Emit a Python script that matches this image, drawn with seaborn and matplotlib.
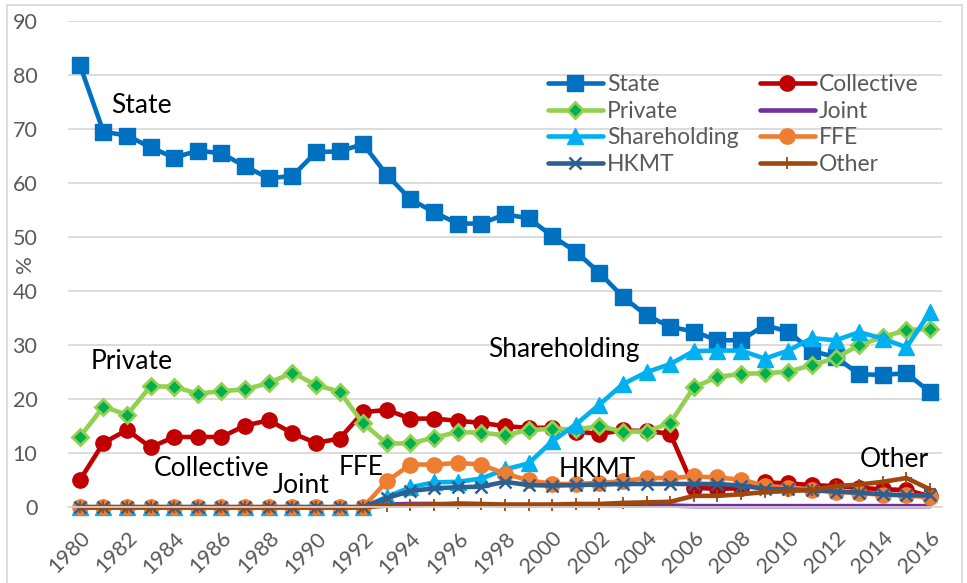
import matplotlib
matplotlib.use("Agg")
import matplotlib.pyplot as plt
import seaborn as sns
import numpy as np
import pandas as pd

years = list(range(1980, 2017))

state = [81.9, 69.5, 68.8, 66.6, 64.7, 66.0, 65.5, 63.1, 60.9, 61.3, 65.7, 65.9, 67.2,
         61.5, 57.0, 54.6, 52.5, 52.5, 54.2, 53.5, 50.2, 47.3, 43.4, 38.9, 35.5, 33.4,
         32.5, 30.9, 30.9, 33.7, 32.5, 28.9, 27.8, 24.6, 24.5, 24.8, 21.3]
collective = [5.0, 11.9, 14.3, 11.1, 13.0, 13.0, 13.0, 15.1, 16.1, 13.7, 11.9, 12.7, 17.6,
              18.0, 16.4, 16.4, 16.0, 15.6, 15.0, 14.7, 14.7, 14.0, 13.6, 14.2, 14.1, 13.6,
              3.6, 3.4, 3.5, 4.6, 4.4, 4.1, 3.9, 3.6, 3.3, 3.2, 2.0]
private = [13.0, 18.6, 17.1, 22.4, 22.3, 21.0, 21.5, 21.8, 23.0, 24.9, 22.6, 21.4, 15.5,
           11.8, 11.8, 12.9, 13.9, 13.8, 13.3, 14.3, 14.5, 14.4, 15.0, 14.0, 14.0, 15.6,
           22.2, 24.1, 24.7, 24.8, 25.1, 26.3, 27.6, 30.0, 31.5, 32.8, 33.0]
joint = [0.0] * 13 + [0.5, 0.6, 0.6, 0.5, 0.5, 0.3, 0.3, 0.3, 0.3, 0.3, 0.3, 0.3, 0.3,
                      0.2, 0.2, 0.2, 0.2, 0.2, 0.2, 0.2, 0.2, 0.2, 0.2, 0.2]
shareholding = [0.0] * 13 + [1.9, 3.7, 4.6, 4.7, 5.3, 7.0, 8.1, 12.2, 15.3, 19.0, 22.8,
                             25.0, 26.5, 28.9, 29.0, 29.0, 27.5, 29.0, 31.3, 30.9, 32.4,
                             31.2, 29.6, 36.1]
ffe = [0.0] * 13 + [4.8, 7.9, 7.9, 8.2, 7.9, 6.2, 5.0, 4.3, 4.3, 4.5, 4.8, 5.4, 5.4,
                    5.7, 5.5, 5.1, 4.0, 3.6, 3.2, 2.9, 2.6, 2.3, 2.2, 1.8]
hkmt = [0.0] * 13 + [1.7, 3.0, 3.5, 3.7, 3.8, 4.7, 4.1, 4.0, 4.1, 4.2, 4.3, 4.3, 4.3,
                     4.3, 4.3, 4.0, 3.4, 3.3, 3.1, 2.9, 2.7, 2.4, 2.2, 2.2]
other = [0.0] * 13 + [0.3, 0.4, 0.5, 0.7, 0.6, 0.5, 0.5, 0.5, 0.6, 0.6, 0.8, 0.9, 1.0,
                      2.1, 2.1, 2.4, 2.8, 3.0, 3.2, 3.9, 4.2, 4.7, 5.4, 3.3]

series_names = ["State", "Collective", "Private", "Joint", "Shareholding", "FFE", "HKMT", "Other"]
series_values = [state, collective, private, joint, shareholding, ffe, hkmt, other]

styles = {
    "State": dict(color="#0070C0", marker="s", markersize=11, markerfacecolor="#0070C0",
                  markeredgecolor="#0070C0", markeredgewidth=1),
    "Collective": dict(color="#C00000", marker="o", markersize=11, markerfacecolor="#C00000",
                       markeredgecolor="#C00000", markeredgewidth=1),
    "Private": dict(color="#92D050", marker="D", markersize=8.5, markerfacecolor="#00B050",
                    markeredgecolor="#92D050", markeredgewidth=2),
    "Joint": dict(color="#7030A0", marker=None),
    "Shareholding": dict(color="#00B0F0", marker="^", markersize=11, markerfacecolor="#00B0F0",
                         markeredgecolor="#00B0F0", markeredgewidth=1),
    "FFE": dict(color="#ED7D31", marker="o", markersize=11, markerfacecolor="#ED7D31",
                markeredgecolor="#ED7D31", markeredgewidth=1),
    "HKMT": dict(color="#2E5F91", marker="x", markersize=9, markeredgecolor="#2E5F91",
                 markeredgewidth=1.8),
    "Other": dict(color="#9E480E", marker="+", markersize=9, markeredgecolor="#9E480E",
                  markeredgewidth=1.3),
}

sns.set_theme(style="white")
plt.rcParams["font.family"] = ["Lato", "DejaVu Sans"]
plt.rcParams["ytick.major.pad"] = 22
plt.rcParams["xtick.major.pad"] = 15
plt.rcParams["ytick.major.size"] = 0
plt.rcParams["xtick.major.size"] = 0

fig = plt.figure(figsize=(9.67, 5.83), dpi=100)
ax = fig.add_axes([0.0703, 0.130, 0.9037, 0.834])

for name, vals in zip(series_names, series_values):
    df = pd.DataFrame({"year": years, "value": vals})
    st = dict(styles[name])
    sns.lineplot(data=df, x="year", y="value", ax=ax, label=name, linewidth=3.3,
                 clip_on=False, **st)

ax.set_xlim(1979.5, 2016.5)
ax.set_ylim(0, 90)
ax.set_yticks(range(0, 91, 10))
ax.set_xticks(years[::2])
ax.set_xticklabels([str(y) for y in years[::2]], rotation=45, ha="right",
                   rotation_mode="anchor")
ax.tick_params(axis="both", colors="#595959", labelsize=15.5, length=0)
ax.tick_params(axis="y", pad=22)
ax.tick_params(axis="x", pad=15)
ax.yaxis.grid(True, color="#D9D9D9", linewidth=1.3)
ax.xaxis.grid(False)
ax.set_axisbelow(True)
for s in ["top", "right", "left"]:
    ax.spines[s].set_visible(False)
ax.spines["bottom"].set_color("#D9D9D9")
ax.set_xlabel("")
ax.set_ylabel("%", color="#595959", fontsize=16)
ax.yaxis.set_label_coords(-0.038, 0.5)

# legend ordered row-wise like the reference
handles, labels = ax.get_legend_handles_labels()
hmap = dict(zip(labels, handles))
order = ["State", "Private", "Shareholding", "HKMT", "Collective", "Joint", "FFE", "Other"]
leg = ax.legend([hmap[k] for k in order], order, ncol=2, frameon=False,
                loc="upper left", bbox_to_anchor=(0.549, 0.89), fontsize=16.5,
                handlelength=2.4, handletextpad=0.2, columnspacing=0.9,
                labelspacing=0.24, borderaxespad=0, borderpad=0)
for t in leg.get_texts():
    t.set_color("#595959")

annots = [("State", 1982.6, 74.3), ("Private", 1982.2, 27.0), ("Collective", 1985.6, 7.2),
          ("Joint", 1989.35, 4.1), ("FFE", 1991.9, 7.4), ("Shareholding", 2000.5, 29.1),
          ("HKMT", 2001.9, 7.0), ("Other", 2014.5, 8.9)]
for txt, x, y in annots:
    ax.text(x, y, txt, fontsize=19, color="black", ha="center", va="center")

fig.patches.append(plt.Rectangle((7 / 967, -0.01), 955 / 967, 1 - 5 / 583 + 0.01,
                                 transform=fig.transFigure, fill=False,
                                 edgecolor="#D9D9D9", linewidth=1.3))

fig.savefig("out.png", dpi=100)
